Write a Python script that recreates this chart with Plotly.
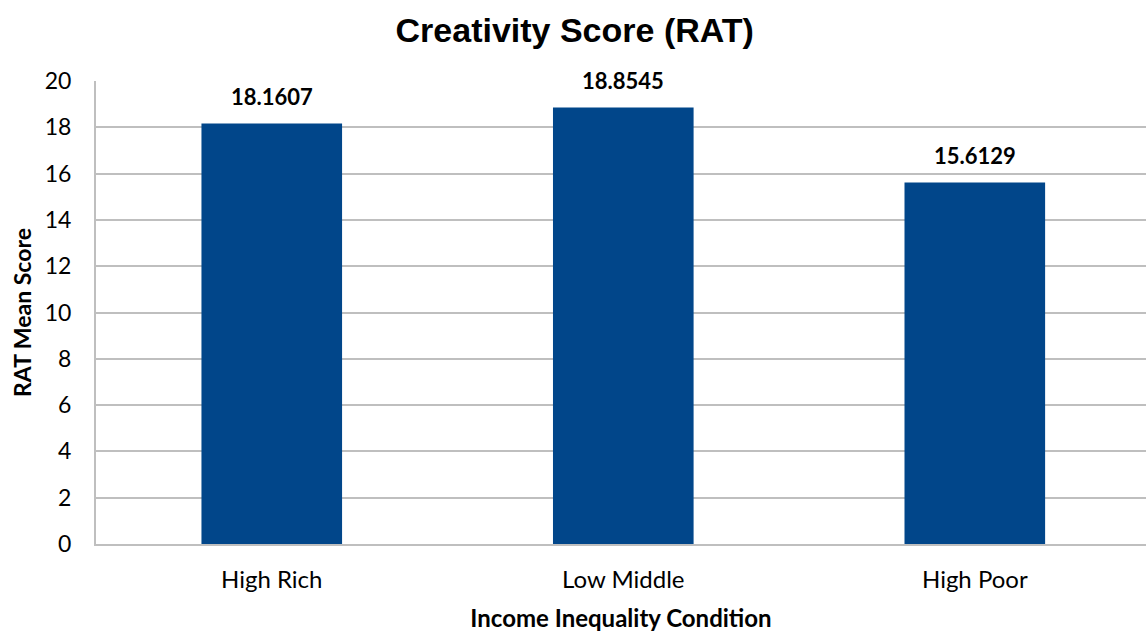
import plotly.graph_objects as go

categories = ["High Rich", "Low Middle", "High Poor"]
values = [18.1607, 18.8545, 15.6129]
labels = ["18.1607", "18.8545", "15.6129"]
y_ticks = [0, 2, 4, 6, 8, 10, 12, 14, 16, 18, 20]

BAR = "#01468A"
GRID = "#BFBFBF"
FONT = "Lato, 'Open Sans', sans-serif"

fig = go.Figure()
fig.add_trace(go.Bar(x=categories, y=values, marker=dict(color=BAR, line=dict(width=0)),
                     width=0.4, hoverinfo="skip"))

for c, v, t in zip(categories, values, labels):
    fig.add_annotation(x=c, y=v, text="<b>%s</b>" % t, showarrow=False, yshift=27,
                       font=dict(family=FONT, size=22, color="black"))

fig.update_layout(
    width=1146, height=633,
    margin=dict(l=96, r=0, t=81, b=89, pad=0),
    paper_bgcolor="white", plot_bgcolor="white",
    showlegend=False,
    title=dict(text="<b>Creativity Score (RAT)</b>", x=0.5015, xanchor="center", y=0.953, yanchor="middle",
               font=dict(family="Liberation Sans, Arial, sans-serif", size=34, color="black")),
    xaxis=dict(range=[-0.5, 2.487], showgrid=False, showline=True, linecolor=GRID, linewidth=2,
               ticks="", tickfont=dict(family=FONT, size=24, color="black"), ticklabelstandoff=13,
               title=dict(text="<b>Income Inequality Condition</b>", standoff=18,
                          font=dict(family=FONT, size=24, color="black"))),
    yaxis=dict(range=[0, 20], tickvals=y_ticks, showgrid=True, gridcolor=GRID, gridwidth=2,
               showline=True, linecolor=GRID, linewidth=2, zeroline=False,
               ticks="", tickfont=dict(family=FONT, size=23, color="black"), ticklabelstandoff=18,
               title=dict(text="<b>RAT Mean Score</b>", standoff=7,
                          font=dict(family=FONT, size=23, color="black"))),
)

fig.write_html("out.html")
